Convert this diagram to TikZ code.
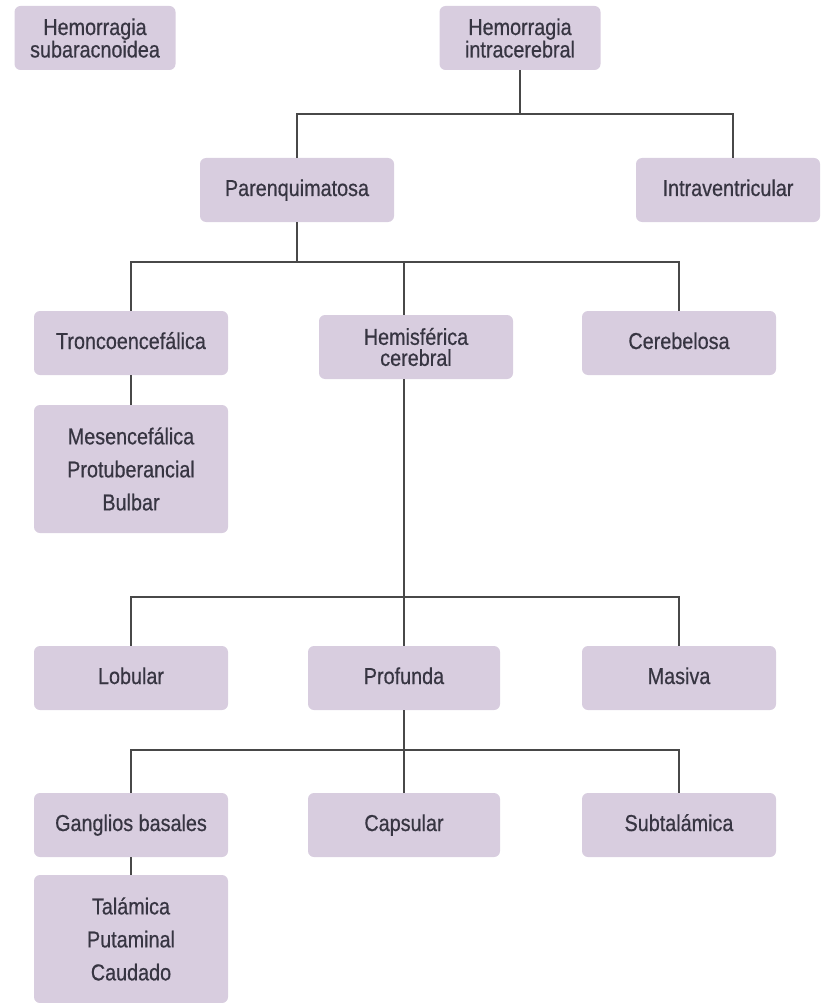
\documentclass[tikz,border=0pt]{standalone}
\usepackage{fontspec}
\setmainfont{Liberation Sans}[FakeStretch=0.86, FakeBold=0.6]
\usepackage{tikz}
\definecolor{boxfill}{RGB}{216,205,223}
\definecolor{boxtext}{RGB}{55,53,66}
\definecolor{linegray}{RGB}{72,72,72}
\tikzset{
    every node/.style={fill=boxfill, rounded corners=6pt, inner sep=0pt,
    	text=boxtext, align=center, font=\fontsize{23}{21}\selectfont}
}
\tikzset{
    box/.style={minimum width=194pt, minimum height=64pt,
    	text height=16.5pt, text depth=4.5pt},
    twobox/.style={minimum width=194pt, minimum height=64pt},
    topbox/.style={minimum width=161pt, minimum height=64pt},
    listbox/.style={minimum width=194pt, minimum height=128pt,
    	font=\fontsize{23}{33}\selectfont}
}
\tikzset{
    link/.style={draw=linegray, line width=1.7pt},
    every edge/.append style={link}
}

\begin{document}
\begin{tikzpicture}[x=1pt, y=-1pt]
	\useasboundingbox (0,0) rectangle (823,1003);
	\node [topbox] (sub) at (95,38) {Hemorragia\\subaracnoidea};
	\node [topbox] (intra) at (520,38) {Hemorragia\\intracerebral};
	\node [box] (paren) at (297,190) {Parenquimatosa};
	\node [box, minimum width=184pt] (ventr) at (728,190) {Intraventricular};
	\node [box] (tronco) at (131,343) {Troncoencef\'alica};
	\node [twobox] (hemi) at (416,347) {Hemisf\'erica\\cerebral};
	\node [box] (cereb) at (679,343) {Cerebelosa};
	\node [listbox] (mesen) at (131,469) {Mesencef\'alica\\Protuberancial\\Bulbar};
	\node [box] (lob) at (131,678) {Lobular};
	\node [box, minimum width=192pt] (prof) at (404,678) {Profunda};
	\node [box] (mas) at (679,678) {Masiva};
	\node [box] (gang) at (131,825) {Ganglios basales};
	\node [box, minimum width=192pt] (caps) at (404,825) {Capsular};
	\node [box] (subt) at (679,825) {Subtal\'amica};
	\node [listbox] (tal) at (131,939) {Tal\'amica\\Putaminal\\Caudado};
	\coordinate (bar1) at (0,114);
	\coordinate (bar2) at (0,262);
	\coordinate (bar3) at (0,597);
	\coordinate (bar4) at (0,750);
	\draw [link] (intra.south) -- (intra.south |- bar1) -| (paren.north);
	\draw [link] (intra.south |- bar1) -| ([xshift=5pt]ventr.north);
	\draw [link] (paren.south) -- (paren.south |- bar2) -| (tronco.north);
	\draw [link] (paren.south |- bar2) -| (cereb.north);
	\draw [link] (prof |- bar2) -- (prof |- hemi.north);
	\draw (tronco) edge (mesen);
	\draw [link] (prof |- hemi.south) -- (prof |- bar3) -| (lob.north);
	\draw [link] (prof |- bar3) -| (mas.north);
	\draw [link] (prof |- bar3) -- (prof.north);
	\draw [link] (prof.south) -- (prof.south |- bar4) -| (gang.north);
	\draw [link] (prof.south |- bar4) -| (subt.north);
	\draw [link] (prof.south |- bar4) -- (caps.north);
	\draw (gang) edge (tal);
\end{tikzpicture}
\end{document}
